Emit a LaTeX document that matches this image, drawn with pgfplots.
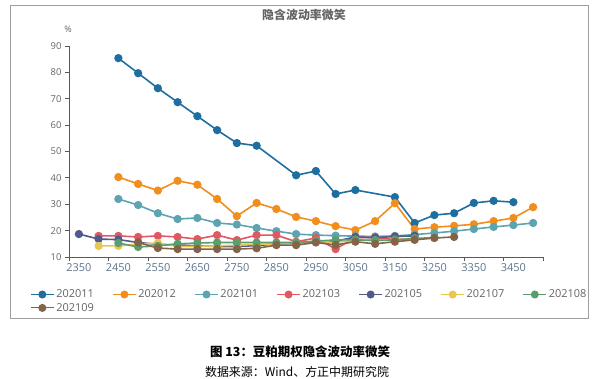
\documentclass[border=0pt]{standalone}
\usepackage{pgfplots}
\pgfplotsset{compat=1.18}
\usepackage{pgfplotstable}
\usepackage{fontspec}
\setmainfont{Open Sans}
\newfontfamily\cjk{Noto Sans CJK SC}
\definecolor{cA}{RGB}{31,110,160}
\definecolor{cB}{RGB}{242,142,28}
\definecolor{cC}{RGB}{94,163,176}
\definecolor{cD}{RGB}{224,88,98}
\definecolor{cE}{RGB}{80,90,140}
\definecolor{cF}{RGB}{232,198,80}
\definecolor{cG}{RGB}{90,158,110}
\definecolor{cH}{RGB}{132,100,72}
\definecolor{txt}{RGB}{100,100,100}
\definecolor{xtxt}{RGB}{95,115,140}

\pgfplotstableread{
k v
2450 85.4
2500 79.7
2550 74.0
2600 68.7
2650 63.4
2700 58.1
2750 53.2
2800 52.2
2900 41.0
2950 42.6
3000 33.9
3050 35.4
3150 32.7
3200 22.9
3250 25.9
3300 26.6
3350 30.5
3400 31.3
3450 30.8
}\tA
\pgfplotstableread{
k v
2450 40.3
2500 37.7
2550 35.2
2600 38.9
2650 37.4
2700 32.0
2750 25.5
2800 30.5
2850 28.2
2900 25.2
2950 23.6
3000 21.7
3050 20.2
3100 23.6
3150 30.4
3200 20.6
3250 21.3
3300 21.8
3350 22.4
3400 23.6
3450 24.8
3500 28.9
}\tB
\pgfplotstableread{
k v
2450 32.0
2500 29.7
2550 26.6
2600 24.4
2650 24.8
2700 22.9
2750 22.3
2800 21.0
2850 19.8
2900 18.7
2950 18.3
3000 18.1
3050 17.9
3100 17.8
3150 18.0
3200 18.5
3250 19.1
3300 19.8
3350 20.6
3400 21.4
3450 22.1
3500 22.9
}\tC
\pgfplotstableread{
k v
2400 18.0
2450 18.0
2500 17.6
2550 18.0
2600 17.6
2650 16.8
2700 18.3
2750 16.4
2800 18.3
2850 18.3
2900 15.8
2950 17.2
3000 13.0
3050 17.4
3100 17.4
3150 16.6
3200 17.0
}\tD
\pgfplotstableread{
k v
2350 18.7
2400 16.8
2450 16.6
2500 15.5
2550 14.8
2600 14.6
2650 14.2
2700 14.0
2750 14.0
2800 14.3
2850 15.0
2900 15.3
2950 15.8
3000 16.0
3050 17.6
3100 17.3
3150 17.8
3200 18.0
}\tE
\pgfplotstableread{
k v
2400 14.2
2450 14.2
2500 14.9
2550 15.3
2600 14.0
2650 14.0
2700 14.2
2750 14.5
2800 14.8
2850 15.0
2900 15.5
2950 16.0
3000 15.5
3050 16.5
3100 16.3
3150 16.5
3200 17.0
}\tF
\pgfplotstableread{
k v
2450 15.3
2500 13.8
2550 14.2
2600 15.0
2650 15.3
2700 15.5
2750 15.5
2800 15.5
2850 15.5
2900 15.5
2950 16.0
3000 16.5
3050 16.5
3100 16.3
3150 16.5
3200 17.0
3250 17.4
}\tG
\pgfplotstableread{
k v
2500 15.5
2550 13.4
2600 13.0
2650 13.0
2700 13.0
2750 13.0
2800 13.3
2850 14.5
2900 14.5
2950 15.5
3000 14.6
3050 15.8
3100 15.0
3150 15.8
3200 16.5
3250 17.2
3300 17.6
}\tH

\begin{document}
\begin{tikzpicture}
\path[use as bounding box] (0bp,0bp) rectangle (600bp,-379bp);
\draw[gray!75, line width=1bp] (10bp,-5bp) rectangle (588bp,-318bp);
\node[font=\cjk\bfseries\fontsize{12}{14}\selectfont, text=txt] at (304bp,-15bp) {隐含波动率微笑};
\node[font=\fontsize{9}{10}\selectfont, text=txt] at (68bp,-29bp) {\%};
\begin{axis}[
  at={(69bp,-257bp)}, anchor=south west,
  scale only axis, width=474bp, height=211bp,
  xmin=2325, xmax=3525, ymin=10, ymax=90,
  axis x line*=bottom, axis y line*=left,
  axis line style={gray!70!black, line width=0.8bp},
  tick style={gray!70!black, line width=0.8bp},
  tick align=outside, major tick length=4bp,
  xtick={2325,2425,...,3525}, xticklabels={},
  extra x ticks={2350,2450,...,3450},
  extra x tick labels={2350,2450,2550,2650,2750,2850,2950,3050,3150,3250,3350,3450},
  extra x tick style={major tick length=0pt, xticklabel style={yshift=-3bp}},
  ytick={10,20,...,90},
  /pgf/number format/assume math mode=true,
  xticklabel style={font=\fontsize{11}{12}\selectfont, text=xtxt},
  yticklabel style={font=\fontsize{9.5}{11}\selectfont, text=txt},
  every axis plot/.append style={line width=1.6bp, mark=*, mark size=3.3bp, mark options={solid}},
  legend columns=7,
  legend cell align=left,
  legend style={at={(axis description cs:-0.082,-0.145)}, anchor=north west, draw=none, fill=none,
    font=\fontsize{11}{12}\selectfont, text=txt, inner sep=0pt, row sep=0bp,
    /tikz/every even column/.append style={column sep=16.5bp}},
  legend image code/.code={\draw[mark repeat=2,mark phase=2,#1,line width=1bp, mark size=3.5bp] plot coordinates {(0bp,0bp) (11.5bp,0bp) (23bp,0bp)};},
]
\addplot[color=cA] table[x=k,y=v] {\tA}; \addlegendentry{202011}
\addplot[color=cB] table[x=k,y=v] {\tB}; \addlegendentry{202012}
\addplot[color=cC] table[x=k,y=v] {\tC}; \addlegendentry{202101}
\addplot[color=cD] table[x=k,y=v] {\tD}; \addlegendentry{202103}
\addplot[color=cE] table[x=k,y=v] {\tE}; \addlegendentry{202105}
\addplot[color=cF] table[x=k,y=v] {\tF}; \addlegendentry{202107}
\addplot[color=cG] table[x=k,y=v] {\tG}; \addlegendentry{202108}
\addplot[color=cH] table[x=k,y=v] {\tH}; \addlegendentry{202109}
\end{axis}
\node[font=\cjk\bfseries\fontsize{12.5}{14}\selectfont] at (300bp,-352bp) {图 13：豆粕期权隐含波动率微笑};
\node[font=\cjk\fontsize{12}{14}\selectfont] at (297bp,-372bp) {数据来源：Wind、方正中期研究院};
\end{tikzpicture}
\end{document}
